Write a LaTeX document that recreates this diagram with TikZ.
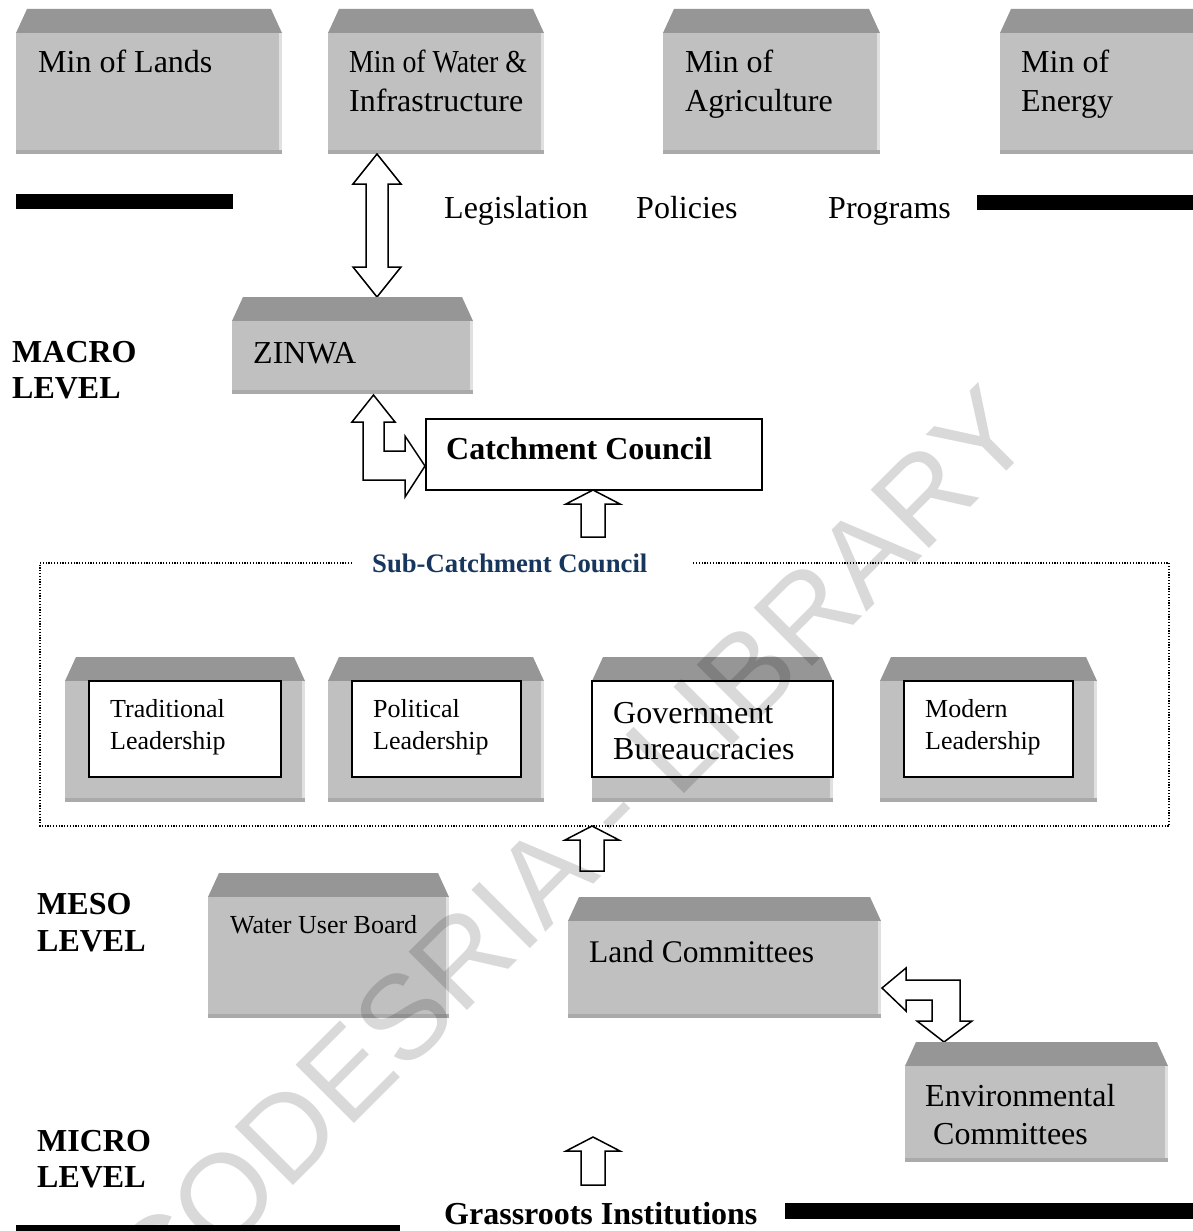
\documentclass[tikz,border=0pt]{standalone}
\usepackage{fontspec}
\setmainfont{Liberation Serif}
\newfontfamily\wmfont{Liberation Sans}
\definecolor{topgray}{RGB}{150,150,150}
\definecolor{bodygray}{RGB}{192,192,192}
\definecolor{edgedark}{RGB}{170,170,170}
\definecolor{edgelight}{RGB}{224,224,224}
\definecolor{navy}{RGB}{23,54,93}
\tikzset{
  txt/.style={anchor=base west, inner sep=0pt},
  big/.style={txt, font=\fontsize{32}{37}\selectfont},
  mid/.style={txt, font=\fontsize{26}{31}\selectfont},
  bigb/.style={txt, font=\fontsize{32}{36}\selectfont\bfseries},
  blockarrow/.style={fill=white, draw=black, line width=1.5pt, line join=miter},
  bar/.style={fill=black},
  innerbox/.style={fill=white, draw=black, line width=2pt},
  dotline/.style={draw=black, line width=1.4pt, dash pattern=on 1.2pt off 1.6pt},
}
\newcommand{\bevbox}[5]{%
  \fill[topgray] ({#2+11},#3) -- ({#4-11},#3) -- (#4,{#3+24}) -- (#2,{#3+24}) -- cycle;
  \fill[bodygray] (#2,{#3+24}) rectangle (#4,#5);
  \fill[edgelight] ({#4-3},{#3+24}) rectangle (#4,#5);
  \fill[edgedark] (#2,{#5-4}) rectangle (#4,#5);
  \coordinate (#1) at ({(#2+#4)/2},{(#3+#5)/2});
}
\begin{document}
\begin{tikzpicture}[x=1pt,y=-1pt]
\useasboundingbox (0,0) rectangle (1193,1231);
\fill[white] (0,0) rectangle (1193,1231);

% ---- top ministries
\bevbox{lands}{16}{9}{282}{154}
\bevbox{water}{328}{9}{544}{154}
\bevbox{agri}{663}{9}{880}{154}
\bevbox{energy}{1000}{9}{1216}{154}
\node[big] (tLands) at (38,73) {Min of Lands};
\node[big] (tWaterA) at (349,73) {\scalebox{0.87}[1]{Min of Water \&}};
\node[big] (tWaterB) at (349,111) {Infrastructure};
\node[big] (tAgriA) at (685,73) {Min of};
\node[big] (tAgriB) at (685,111) {Agriculture};
\node[big] (tEnA) at (1021,73) {Min of};
\node[big] (tEnB) at (1021,111) {Energy};

% ---- bars and policy words
\fill[bar] (16,194) rectangle (233,209);
\fill[bar] (977,195) rectangle (1200,210);
\node[big] (leg) at (444,218) {Legislation};
\node[big] (pol) at (636,218) {Policies};
\node[big] (prog) at (828,218) {Programs};

% ---- double arrow water <-> ZINWA
\path[blockarrow] (377,154) -- (401,184) -- (388,184) -- (388,267) -- (401,267) -- (377,297)
  -- (353,267) -- (366,267) -- (366,184) -- (353,184) -- cycle;

% ---- ZINWA
\bevbox{zinwa}{232}{297}{473}{394}
\node[big] (tZinwa) at (253,363) {ZINWA};
\node[bigb] (macroA) at (12,362) {MACRO};
\node[bigb] (macroB) at (12,398) {LEVEL};

% ---- Catchment council
\node[draw=black, line width=2pt, fill=white, minimum width=336pt, minimum height=71pt, anchor=north west, inner sep=0pt] (cc) at (425,418) {};
\node[bigb] (tcc) at (446,459) {Catchment Council};

% bent arrow ZINWA <-> Catchment
\path[blockarrow] (373.5,395) -- (395,422) -- (384,422) -- (384,451) -- (405,451) -- (405,436)
  -- (425,466) -- (405,497) -- (405,480) -- (363,480) -- (363,422) -- (352,422) -- cycle;

% up arrow into catchment council
\path[blockarrow] (593,490) -- (620,504) -- (605,504) -- (605,537) -- (581,537) -- (581,504) -- (566,504) -- cycle;

% ---- Sub-catchment dotted frame
\draw[dotline] (352,563) -- (40,563) -- (40,826) -- (1169,826) -- (1169,563) -- (692,563);
\node[txt, font=\fontsize{26.7}{30}\selectfont\bfseries, text=navy] (sub) at (372,572) {Sub-Catchment Council};

\bevbox{trad}{65}{657}{305}{802}
\bevbox{polit}{328}{657}{544}{802}
\bevbox{gov}{592}{657}{833}{802}
\bevbox{mod}{880}{657}{1097}{802}
\draw[innerbox] (89,681) rectangle (281,777);
\draw[innerbox] (352,681) rectangle (521,777);
\draw[innerbox] (592,681) rectangle (833,777);
\draw[innerbox] (904,681) rectangle (1073,777);
\node[mid] (tTradA) at (110,717) {Traditional};
\node[mid] (tTradB) at (110,749) {Leadership};
\node[mid] (tPolA) at (373,717) {Political};
\node[mid] (tPolB) at (373,749) {Leadership};
\node[big] (tGovA) at (613,723) {Government};
\node[big] (tGovB) at (613,759) {Bureaucracies};
\node[mid] (tModA) at (925,717) {Modern};
\node[mid] (tModB) at (925,749) {Leadership};

% up arrow into sub-catchment
\path[blockarrow] (592,826) -- (619,840) -- (604,840) -- (604,871) -- (580,871) -- (580,840) -- (565,840) -- cycle;

% ---- Meso level
\node[bigb] (mesoA) at (37,914) {MESO};
\node[bigb] (mesoB) at (37,951) {LEVEL};
\bevbox{wub}{208}{873}{449}{1018}
\node[mid] (tWub) at (230,933) {Water User Board};
\bevbox{land}{568}{897}{881}{1018}
\node[txt, font=\fontsize{31.5}{36}\selectfont] (tLand) at (589,962) {Land Committees};

% bent arrow Land <-> Environmental
\path[blockarrow] (882,988) -- (906,968) -- (906,980) -- (960,980) -- (960,1021) -- (972,1021)
  -- (944,1042) -- (917,1021) -- (932,1021) -- (932,1000) -- (906,1000) -- (906,1011) -- cycle;

\bevbox{env}{905}{1042}{1168}{1162}
\node[big] (tEnvA) at (925,1106) {Environmental};
\node[big] (tEnvB) at (933,1144) {Committees};

% ---- Micro level
\node[bigb] (microA) at (37,1151) {MICRO};
\node[bigb] (microB) at (37,1187) {LEVEL};
\path[blockarrow] (593,1137) -- (620,1151) -- (605,1151) -- (605,1185) -- (581,1185) -- (581,1151) -- (566,1151) -- cycle;
\node[bigb] (grass) at (444,1224) {Grassroots Institutions};
\fill[bar] (785,1203) rectangle (1200,1219);
\fill[bar] (16,1225) rectangle (400,1240);

% ---- watermark
\node[rotate=45, text=black, opacity=0.15, inner sep=0pt, font=\wmfont\fontsize{120}{120}\selectfont] (wm) at (570,850) {CODESRIA - LIBRARY};
\end{tikzpicture}
\end{document}
